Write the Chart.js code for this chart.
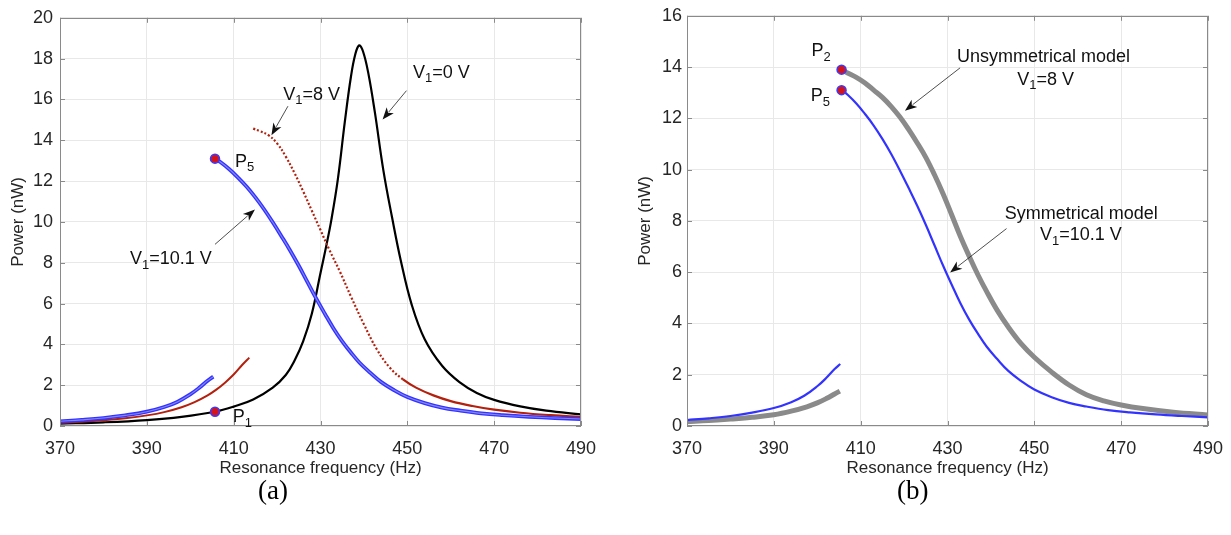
<!DOCTYPE html>
<html lang="en">
<head>
<meta charset="UTF-8">
<title>Power vs resonance frequency</title>
<script src="https://cdn.jsdelivr.net/npm/chart.js"></script>
<style>
  body { margin: 0; background: #fff; width: 1231px; height: 535px; overflow: hidden; position: relative; }
  .panel { position: absolute; top: 0; height: 480px; }
  #panelA { left: 0; width: 615px; }
  #panelB { left: 615px; width: 616px; }
  .cap { position: absolute; top: 475px; font-family: "Liberation Serif", "DejaVu Serif", serif; font-size: 27px; color: #000; }
</style>
</head>
<body>
<div class="panel" id="panelA"><canvas id="chartA"></canvas></div>
<div class="panel" id="panelB"><canvas id="chartB"></canvas></div>
<div class="cap" style="left:258px">(a)</div>
<div class="cap" style="left:897px">(b)</div>

<script>
// ---- data (frequency in Hz, power in nW) ----

// V1 = 0 V (black, panel a)
const freqV0 = [370, 380, 390, 398, 405.7, 410, 414.5, 419, 422, 424, 426, 428, 430, 431.4, 432.5, 434, 435.6, 437, 438, 438.9, 439.8, 441, 442.5, 444.5, 446.5, 448.5, 451, 454, 458, 462, 466, 470, 476, 482, 490];
const powV0 = [0.12, 0.18, 0.29, 0.45, 0.7, 0.95, 1.3, 1.88, 2.5, 3.2, 4.15, 5.5, 7.5, 8.9, 10.1, 12.1, 14.9, 17.1, 18.2, 18.65, 18.35, 17.3, 15.4, 12.5, 10.2, 8.1, 5.95, 4.25, 2.95, 2.15, 1.62, 1.28, 0.96, 0.75, 0.57];

// V1 = 8 V (red dotted, panel a) lower and upper branch
const freqV8Low = [370, 375, 380, 385, 390, 394, 398, 401, 404, 406, 408, 410, 412, 413.6];
const powV8Low = [0.16, 0.21, 0.28, 0.38, 0.52, 0.68, 0.92, 1.17, 1.5, 1.78, 2.12, 2.52, 3.0, 3.35];
const freqV8 = [414.5, 416, 418, 420, 422, 424, 426, 428, 430, 432, 434.5, 437, 440, 443, 446, 449, 452, 456, 460, 465, 470, 476, 483, 490];
const powV8 = [14.57, 14.45, 14.25, 13.85, 13.2, 12.4, 11.5, 10.55, 9.6, 8.65, 7.55, 6.35, 4.98, 3.75, 2.85, 2.28, 1.88, 1.5, 1.22, 0.98, 0.8, 0.65, 0.53, 0.44];

// V1 = 10.1 V, symmetrical model (blue, both panels)
const freqV10Low = [370, 375, 380, 385, 390, 394, 397, 400, 402, 404, 405.3];
const powV10Low = [0.23, 0.3, 0.39, 0.52, 0.7, 0.93, 1.18, 1.55, 1.86, 2.22, 2.42];
const freqV10 = [405.7, 407, 409, 411, 413, 415, 417, 419, 421, 423, 425, 427, 429, 431, 433, 435, 437, 439, 441.5, 444, 447, 450, 454, 458, 462, 467, 472, 478, 484, 490];
const powV10 = [13.1, 12.92, 12.58, 12.17, 11.72, 11.2, 10.62, 9.98, 9.3, 8.6, 7.85, 7.05, 6.25, 5.5, 4.78, 4.15, 3.6, 3.1, 2.6, 2.15, 1.75, 1.42, 1.12, 0.9, 0.76, 0.62, 0.53, 0.45, 0.39, 0.34];

// V1 = 8 V, unsymmetrical model (grey, panel b)
const freqU8Low = [370, 375, 380, 385, 390, 394, 397.6, 400, 402.2, 404, 405.2];
const powU8Low = [0.17, 0.21, 0.27, 0.34, 0.44, 0.58, 0.75, 0.9, 1.08, 1.25, 1.36];
const freqU8 = [405.6, 407, 409, 411, 413, 415, 417, 419, 421, 423, 425, 427, 429, 431, 433, 435, 437, 439, 441.5, 444, 447, 450, 454, 458, 462, 466, 470, 475, 482, 490];
const powU8 = [13.9, 13.77, 13.6, 13.38, 13.1, 12.82, 12.47, 12.06, 11.58, 11.05, 10.48, 9.8, 9.05, 8.22, 7.38, 6.62, 5.9, 5.25, 4.5, 3.86, 3.2, 2.68, 2.1, 1.6, 1.22, 0.98, 0.82, 0.68, 0.54, 0.43];

// marked points P1, P5 (a) and P2, P5 (b)
const markAX = [405.7, 405.7];
const markAY = [13.1, 0.7];
const markBX = [405.6, 405.6];
const markBY = [13.9, 13.1];

// axes
const freqMin = 370, freqMax = 490, freqStep = 20;
const powMaxA = 20, powMaxB = 16, powStep = 2;

// ---- helpers ----
const FONT = '"Liberation Sans", Arial, Helvetica, sans-serif';
const pts = (xs, ys) => xs.map((v, i) => ({ x: v, y: ys[i] }));

function curve(xs, ys, color, width, extra) {
  return Object.assign({
    data: pts(xs, ys),
    showLine: true,
    borderColor: color,
    borderWidth: width,
    pointRadius: 0,
    tension: 0.4,
    fill: false
  }, extra || {});
}

function markers(xs, ys) {
  return {
    data: pts(xs, ys),
    showLine: false,
    pointRadius: 4.5,
    pointBackgroundColor: '#d4141c',
    pointBorderColor: '#3a3aff',
    pointBorderWidth: 1.5
  };
}

// text with subscripts, y is middle of capitals
function drawRich(ctx, parts, x, y, align) {
  const big = '18px ' + FONT, small = '13px ' + FONT;
  let w = 0;
  parts.forEach(p => { ctx.font = p.sub ? small : big; w += ctx.measureText(p.t).width; });
  let cx = align === 'center' ? x - w / 2 : x;
  ctx.textBaseline = 'alphabetic';
  ctx.textAlign = 'left';
  parts.forEach(p => {
    ctx.font = p.sub ? small : big;
    ctx.fillText(p.t, cx, p.sub ? y + 11 : y + 6.5);
    cx += ctx.measureText(p.t).width;
  });
}

function drawArrow(ctx, x0, y0, x1, y1) {
  const a = Math.atan2(y1 - y0, x1 - x0);
  const len = 12, half = 4.6;
  const c = Math.cos(a), s = Math.sin(a);
  ctx.beginPath();
  ctx.moveTo(x0, y0);
  ctx.lineTo(x1 - c * len * 0.8, y1 - s * len * 0.8);
  ctx.stroke();
  ctx.beginPath();
  ctx.moveTo(x1, y1);
  ctx.lineTo(x1 - c * len - s * half, y1 - s * len + c * half);
  ctx.lineTo(x1 - c * len * 0.72, y1 - s * len * 0.72);
  ctx.lineTo(x1 - c * len + s * half, y1 - s * len - c * half);
  ctx.closePath();
  ctx.fill();
}

// box, inward ticks and annotations (MATLAB style)
const framePlugin = {
  id: 'frame',
  afterDatasetsDraw(chart, args, opts) {
    const { ctx, chartArea: a, scales: { x, y } } = chart;
    ctx.save();
    ctx.strokeStyle = '#8a8a8a';
    ctx.lineWidth = 1;
    ctx.strokeRect(Math.round(a.left) + 0.5, Math.round(a.top) + 0.5, Math.round(a.width) - 1, Math.round(a.height) - 1);
    ctx.beginPath();
    x.ticks.forEach(t => {
      const px = Math.round(x.getPixelForValue(t.value)) + 0.5;
      ctx.moveTo(px, a.bottom); ctx.lineTo(px, a.bottom - 5);
      ctx.moveTo(px, a.top); ctx.lineTo(px, a.top + 5);
    });
    y.ticks.forEach(t => {
      const py = Math.round(y.getPixelForValue(t.value)) + 0.5;
      ctx.moveTo(a.left, py); ctx.lineTo(a.left + 5, py);
      ctx.moveTo(a.right, py); ctx.lineTo(a.right - 5, py);
    });
    ctx.stroke();

    ctx.fillStyle = '#111';
    ctx.strokeStyle = '#222';
    ctx.lineWidth = 0.8;
    (opts.arrows || []).forEach(r => {
      drawArrow(ctx, x.getPixelForValue(r[0]), y.getPixelForValue(r[1]), x.getPixelForValue(r[2]), y.getPixelForValue(r[3]));
    });
    (opts.notes || []).forEach(n => {
      drawRich(ctx, n.parts, x.getPixelForValue(n.x), y.getPixelForValue(n.y), n.align);
    });
    ctx.restore();
  }
};

function makeChart(id, datasets, powMax, yWidth, padRight, titlePad, labelPad, notes, arrows) {
  const tickFont = { family: FONT, size: 18 };
  return new Chart(document.getElementById(id), {
    type: 'scatter',
    data: { datasets },
    options: {
      responsive: true,
      maintainAspectRatio: false,
      animation: false,
      layout: { padding: { top: 15, right: padRight, left: 0, bottom: 0 } },
      plugins: {
        legend: { display: false },
        tooltip: { enabled: false },
        frame: { notes, arrows }
      },
      scales: {
        x: {
          type: 'linear',
          min: freqMin, max: freqMax,
          ticks: { stepSize: freqStep, padding: 12, color: '#262626', font: tickFont, maxRotation: 0 },
          grid: { color: '#e8e8e8', drawTicks: false },
          border: { display: false },
          title: { display: true, text: 'Resonance frequency (Hz)', color: '#262626', font: { family: FONT, size: 17 }, padding: { top: 0, bottom: 1 } },
          afterFit(s) { s.height = 54; s.paddingLeft = 0; s.paddingRight = 0; }
        },
        y: {
          min: 0, max: powMax,
          ticks: { stepSize: powStep, padding: labelPad, color: '#262626', font: tickFont },
          grid: { color: '#e8e8e8', drawTicks: false },
          border: { display: false },
          title: { display: true, text: 'Power (nW)', color: '#262626', font: { family: FONT, size: 17 }, padding: { top: titlePad, bottom: 0 } },
          afterFit(s) { s.width = yWidth; }
        }
      }
    },
    plugins: [framePlugin]
  });
}

const red = '#b3200e', blue = '#3333ff', blueCore = 'rgba(150,150,255,0.85)', grey = '#8a8a8a';
const redDots = { segment: { borderDash: c => (c.p0.parsed.y > 2.6 ? [2, 2] : undefined) } };

makeChart('chartA', [
  markers(markAX, markAY),
  curve(freqV10, powV10, blueCore, 1.1),
  curve(freqV10Low, powV10Low, blueCore, 1.1),
  curve(freqV10, powV10, blue, 3.8),
  curve(freqV10Low, powV10Low, blue, 3.8),
  curve(freqV8, powV8, red, 2.2, redDots),
  curve(freqV8Low, powV8Low, red, 2),
  curve(freqV0, powV0, '#000', 2.2)
], powMaxA, 60, 34, 8, 7, [
  { x: 421.4, y: 16.3, parts: [{ t: 'V' }, { t: '1', sub: true }, { t: '=8 V' }] },
  { x: 451.3, y: 17.37, parts: [{ t: 'V' }, { t: '1', sub: true }, { t: '=0 V' }] },
  { x: 410.3, y: 13.02, parts: [{ t: 'P' }, { t: '5', sub: true }] },
  { x: 386.1, y: 8.25, parts: [{ t: 'V' }, { t: '1', sub: true }, { t: '=10.1 V' }] },
  { x: 409.8, y: 0.49, parts: [{ t: 'P' }, { t: '1', sub: true }] }
], [
  [422.5, 15.67, 418.7, 14.25],
  [449.8, 16.43, 444.3, 15.02],
  [405.7, 8.9, 414.9, 10.61]
]);

makeChart('chartB', [
  markers(markBX, markBY),
  curve(freqV10, powV10, blue, 2.2),
  curve(freqV10Low, powV10Low, blue, 2.2),
  curve(freqU8, powU8, grey, 5),
  curve(freqU8Low, powU8Low, grey, 5)
], powMaxB, 72, 23, 20, 5, [
  { x: 398.7, y: 14.67, parts: [{ t: 'P' }, { t: '2', sub: true }] },
  { x: 398.5, y: 12.92, parts: [{ t: 'P' }, { t: '5', sub: true }] },
  { x: 452.1, y: 14.44, parts: [{ t: 'Unsymmetrical model' }], align: 'center' },
  { x: 452.6, y: 13.57, parts: [{ t: 'V' }, { t: '1', sub: true }, { t: '=8 V' }], align: 'center' },
  { x: 460.8, y: 8.34, parts: [{ t: 'Symmetrical model' }], align: 'center' },
  { x: 460.7, y: 7.5, parts: [{ t: 'V' }, { t: '1', sub: true }, { t: '=10.1 V' }], align: 'center' }
], [
  [432.9, 13.97, 420.2, 12.3],
  [443.6, 7.7, 430.6, 5.99]
]);
</script>
</body>
</html>
